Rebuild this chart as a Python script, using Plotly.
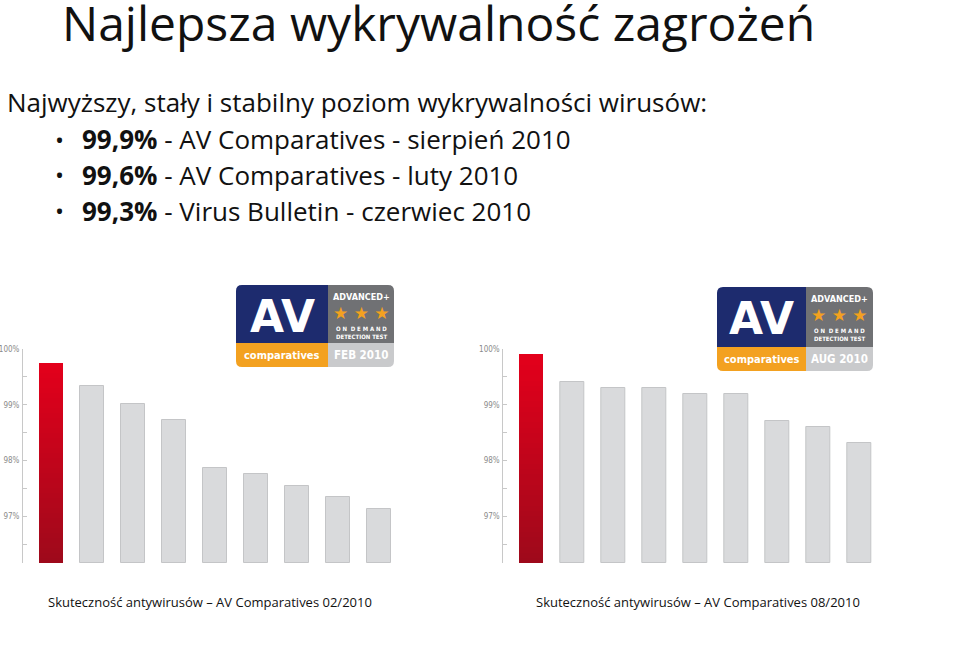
import plotly.graph_objects as go

# ---------------- data ----------------
products = ["P1", "P2", "P3", "P4", "P5", "P6", "P7", "P8", "P9"]
feb_2010 = [99.75, 99.33, 99.02, 98.72, 97.87, 97.76, 97.55, 97.35, 97.13]
aug_2010 = [99.90, 99.40, 99.30, 99.30, 99.20, 99.20, 98.71, 98.60, 98.31]
tick_vals = [97, 98, 99, 100]
tick_text = ["97%", "98%", "99%", "100%"]

title = "Najlepsza wykrywalność zagrożeń"
subtitle = "Najwyższy, stały i stabilny poziom wykrywalności wirusów:"
bullets = [("99,9%", " - AV Comparatives - sierpień 2010"),
           ("99,6%", " - AV Comparatives - luty 2010"),
           ("99,3%", " - Virus Bulletin - czerwiec 2010")]
captions = ["Skuteczność antywirusów – AV Comparatives 02/2010",
            "Skuteczność antywirusów – AV Comparatives 08/2010"]
logo_dates = ["FEB 2010", "AUG 2010"]

# ---------------- layout helpers ----------------
W, H = 960, 657
def xp(px):
    return px / W
def yp(py):
    return 1 - py / H

Y_MIN, Y_MAX = 96.16, 100.0
N_SEG = 40
RED_TOP = (228, 0, 27)
RED_BOT = (158, 10, 28)

fig = go.Figure()

def add_chart(values, xaxis, yaxis):
    fig.add_trace(go.Bar(
        x=list(range(1, len(values))), y=[v - Y_MIN for v in values[1:]],
        base=Y_MIN, width=0.6,
        marker=dict(color="#d9dadc", line=dict(color="#c4c5c7", width=1)),
        xaxis=xaxis, yaxis=yaxis, showlegend=False, hoverinfo="skip"))
    top = values[0]
    step = (top - Y_MIN) / N_SEG
    for i in range(N_SEG):
        t = (i + 0.5) / N_SEG
        c = tuple(int(RED_BOT[k] + (RED_TOP[k] - RED_BOT[k]) * t) for k in range(3))
        fig.add_trace(go.Bar(
            x=[0], y=[step * 1.02], base=Y_MIN + i * step, width=0.6,
            marker=dict(color="rgb(%d,%d,%d)" % c, line=dict(width=0)),
            xaxis=xaxis, yaxis=yaxis, showlegend=False, hoverinfo="skip"))

add_chart(feb_2010, "x", "y")
add_chart(aug_2010, "x2", "y2")

axis_common_y = dict(
    range=[Y_MIN, Y_MAX], tickvals=tick_vals, ticktext=tick_text,
    showgrid=False, zeroline=False, showline=True, linecolor="#c8c8c8", linewidth=1,
    ticks="inside", ticklen=4, tickcolor="#c8c8c8",
    minor=dict(dtick=0.5, ticks="inside", ticklen=4, tickcolor="#c8c8c8", showgrid=False),
    tickfont=dict(family="DejaVu Sans Condensed", size=8, color="#8a8a8a"),
    ticklabelstandoff=1, automargin=False,
)
axis_common_x = dict(range=[-0.683, 8.5], showgrid=False, zeroline=False,
                     showline=False, showticklabels=False, ticks="", automargin=False)

fig.update_layout(
    width=W, height=H, margin=dict(l=0, r=0, t=0, b=0, autoexpand=False),
    paper_bgcolor="white", plot_bgcolor="rgba(0,0,0,0)",
    barmode="overlay", bargap=0,
    xaxis=dict(domain=[xp(23), xp(399.5)], anchor="y", **axis_common_x),
    yaxis=dict(domain=[yp(563), yp(349)], anchor="x", **axis_common_y),
    xaxis2=dict(domain=[xp(503.3), xp(879.8)], anchor="y2", **axis_common_x),
    yaxis2=dict(domain=[yp(563), yp(349)], anchor="x2", **axis_common_y),
)

ann = []
TXT = "Open Sans"
ann.append(dict(text=title, x=xp(60), y=yp(22), xanchor="left", yanchor="middle",
                font=dict(family=TXT, size=48, color="#111111")))
ann.append(dict(text=subtitle, x=xp(5), y=yp(102), xanchor="left", yanchor="middle",
                font=dict(family=TXT, size=26, color="#111111")))
for i, (b, rest) in enumerate(bullets):
    yy = 139.5 + i * 35.5
    ann.append(dict(text="•", x=xp(53), y=yp(yy), xanchor="left", yanchor="middle",
                    font=dict(family=TXT, size=24, color="#111111")))
    ann.append(dict(text="<b>%s</b>%s" % (b, rest), x=xp(80), y=yp(yy), xanchor="left",
                    yanchor="middle", font=dict(family=TXT, size=26, color="#111111")))
ann.append(dict(text=captions[0], x=xp(46), y=yp(602), xanchor="left", yanchor="middle",
                font=dict(family=TXT, size=13, color="#111111")))
ann.append(dict(text=captions[1], x=xp(534), y=yp(602), xanchor="left", yanchor="middle",
                font=dict(family=TXT, size=13, color="#111111")))

shapes = []
def rpath(x0, y0, x1, y1, r, corners):
    tl, tr, br, bl = [r if c else 0 for c in corners]
    def P(x, y):
        return "%f,%f" % (xp(x), yp(y))
    d = "M " + P(x0 + tl, y0)
    d += " L " + P(x1 - tr, y0)
    if tr:
        d += " Q " + P(x1, y0) + " " + P(x1, y0 + tr)
    d += " L " + P(x1, y1 - br)
    if br:
        d += " Q " + P(x1, y1) + " " + P(x1 - br, y1)
    d += " L " + P(x0 + bl, y1)
    if bl:
        d += " Q " + P(x0, y1) + " " + P(x0, y1 - bl)
    d += " L " + P(x0, y0 + tl)
    if tl:
        d += " Q " + P(x0, y0) + " " + P(x0 + tl, y0)
    d += " Z"
    return d

def shape(x0, y0, x1, y1, color, corners):
    shapes.append(dict(type="path", xref="paper", yref="paper",
                       path=rpath(x0, y0, x1, y1, 6, corners),
                       fillcolor=color, line=dict(width=0), layer="above"))

def logo(x0, y0, x1, y1, xs, ys, date):
    shape(x0, y0, xs, ys, "#1d2b6e", (1, 0, 0, 0))
    shape(x0, ys, xs, y1, "#f3a120", (0, 0, 0, 1))
    shape(xs, y0, x1, ys, "#707174", (0, 1, 0, 0))
    shape(xs, ys, x1, y1, "#c9cacc", (0, 0, 1, 0))
    cx_l = (x0 + xs) / 2
    cx_r = (xs + x1) / 2
    ann.append(dict(text="<b>AV</b>", x=xp(cx_l), y=yp((y0 + ys) / 2 + 2), xanchor="center",
                    yanchor="middle", font=dict(family="DejaVu Sans", size=44, color="white")))
    ann.append(dict(text="<b>comparatives</b>", x=xp(cx_l), y=yp((ys + y1) / 2), xanchor="center",
                    yanchor="middle", font=dict(family="DejaVu Sans Condensed", size=11, color="white")))
    ann.append(dict(text="<b>ADVANCED+</b>", x=xp(cx_r), y=yp(y0 + 12), xanchor="center",
                    yanchor="middle", font=dict(family="DejaVu Sans Condensed", size=9, color="white")))
    ann.append(dict(text="★ ★ ★", x=xp(cx_r), y=yp(y0 + 28), xanchor="center",
                    yanchor="middle", font=dict(family="DejaVu Sans", size=17, color="#f3a120")))
    ann.append(dict(text="<b>O N  D E M A N D</b>", x=xp(cx_r), y=yp(y0 + 43), xanchor="center",
                    yanchor="middle", font=dict(family="DejaVu Sans Condensed", size=6, color="white")))
    ann.append(dict(text="<b>DETECTION TEST</b>", x=xp(cx_r), y=yp(y0 + 51), xanchor="center",
                    yanchor="middle", font=dict(family="DejaVu Sans Condensed", size=6, color="white")))
    ann.append(dict(text="<b>%s</b>" % date, x=xp(cx_r), y=yp((ys + y1) / 2), xanchor="center",
                    yanchor="middle", font=dict(family="DejaVu Sans Condensed", size=11.5, color="white")))

logo(236, 285, 394, 367, 328, 343, logo_dates[0])
logo(717, 287, 873, 371, 806, 347, logo_dates[1])

for a in ann:
    a.setdefault("xref", "paper")
    a.setdefault("yref", "paper")
    a.setdefault("showarrow", False)

fig.update_layout(annotations=ann, shapes=shapes)

fig.write_html("out.html", post_script="document.body.style.margin='0';",
               config={"displayModeBar": False})
